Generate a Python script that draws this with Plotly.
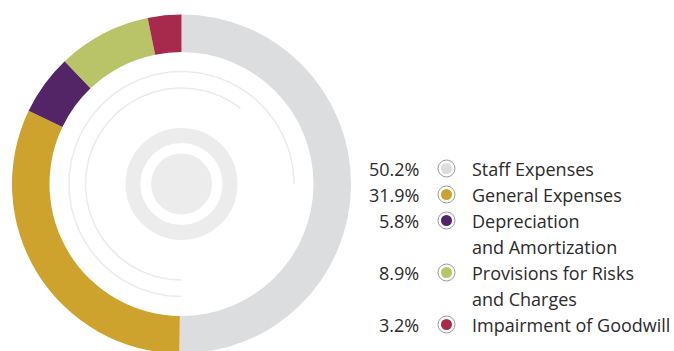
import numpy as np
import plotly.graph_objects as go

# Cost breakdown (% of operating costs)
categories = [
    "Staff Expenses",
    "General Expenses",
    "Depreciation<br>and Amortization",
    "Provisions for Risks<br>and Charges",
    "Impairment of Goodwill",
]
shares = [50.2, 31.9, 5.8, 8.9, 3.2]
colors = ["#dcdddf", "#cda32d", "#532567", "#b8c467", "#a72a4d"]

W, H = 674, 354
CX, CY, R = 181.5, 184.0, 169.5
HOLE = 132.0 / R

fig = go.Figure()

fig.add_trace(go.Pie(
    values=shares,
    labels=[c.replace("<br>", " ") for c in categories],
    marker=dict(colors=colors, line=dict(width=0)),
    hole=HOLE,
    sort=False,
    direction="clockwise",
    rotation=0,
    textinfo="none",
    hoverinfo="label+percent",
    showlegend=False,
    domain=dict(x=[(CX - R) / W, (CX + R) / W],
                y=[1 - (CY + R) / H, 1 - (CY - R) / H]),
))

# decorative thin arcs inside the hole (angles clockwise from 12 o'clock)
DECO = "#ebebeb"
for rad, a0, a1 in [(112.5, 180, 450), (96.0, 180, 398)]:
    t = np.radians(np.linspace(a0, a1, 240))
    fig.add_trace(go.Scatter(
        x=CX + rad * np.sin(t), y=CY - rad * np.cos(t),
        mode="lines", line=dict(color=DECO, width=1.5),
        hoverinfo="skip", showlegend=False,
    ))

# thick ring and central disk
fig.add_shape(type="circle", xref="x", yref="y",
              x0=CX - 48.5, x1=CX + 48.5, y0=CY - 48.5, y1=CY + 48.5,
              line=dict(color="#ececec", width=15), fillcolor="rgba(0,0,0,0)",
              layer="below")
fig.add_shape(type="circle", xref="x", yref="y",
              x0=CX - 30.5, x1=CX + 30.5, y0=CY - 30.5, y1=CY + 30.5,
              line=dict(width=0), fillcolor="#ececec", layer="below")

# legend block
FONT = "Open Sans"
FS = 18
TXT = "#2b2b2b"
ROW0, STEP = 168.5, 26.0
PCT_X, DOT_X, LBL_X = 421, 446.5, 470

row = 0
dot_y = []
for cat, val in zip(categories, shares):
    y0 = ROW0 + STEP * row
    dot_y.append(y0)
    fig.add_annotation(x=PCT_X, y=y0, xref="x", yref="y", text=f"{val:.1f}%",
                       showarrow=False, xanchor="right", yanchor="middle",
                       font=dict(family=FONT, size=FS, color=TXT))
    lines = cat.split("<br>")
    for k, ln in enumerate(lines):
        fig.add_annotation(x=LBL_X, y=y0 + STEP * k, xref="x", yref="y", text=ln,
                           showarrow=False, xanchor="left", yanchor="middle",
                           font=dict(family=FONT, size=FS, color=TXT))
    row += len(lines)

fig.add_trace(go.Scatter(
    x=[DOT_X] * len(shares), y=dot_y, mode="markers",
    marker=dict(size=17, color="white", line=dict(color="#9a9a9a", width=1)),
    hoverinfo="skip", showlegend=False,
))
fig.add_trace(go.Scatter(
    x=[DOT_X] * len(shares), y=dot_y, mode="markers",
    marker=dict(size=11, color=colors, line=dict(width=0)),
    hoverinfo="skip", showlegend=False,
))

fig.update_layout(
    width=W, height=H,
    margin=dict(l=0, r=0, t=0, b=0),
    paper_bgcolor="white", plot_bgcolor="white",
    xaxis=dict(range=[0, W], visible=False, fixedrange=True),
    yaxis=dict(range=[H, 0], visible=False, fixedrange=True),
)

fig.write_html("out.html")
